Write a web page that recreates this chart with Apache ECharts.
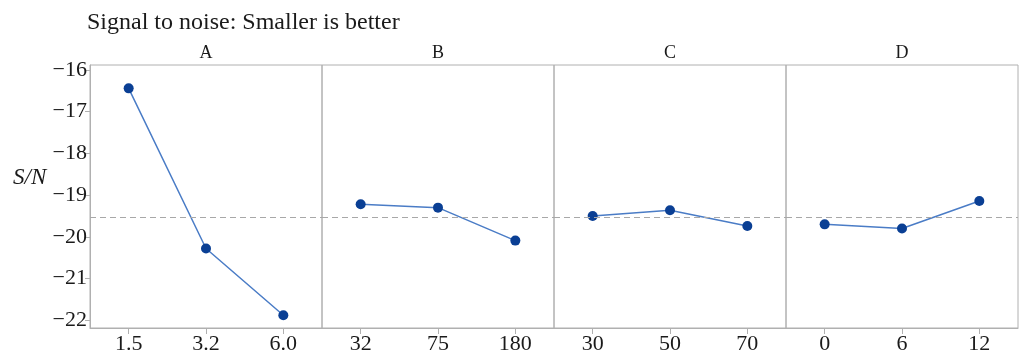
<!DOCTYPE html>
<html>
<head>
<meta charset="utf-8">
<script src="https://cdn.jsdelivr.net/npm/echarts@6/dist/echarts.min.js"></script>
<style>
html,body{margin:0;padding:0;background:#fff;}
#chart{width:1019px;height:360px;}
</style>
</head>
<body>
<div id="chart"></div>
<script>
// ---- data ----
const titleText = 'Signal to noise: Smaller is better';
const yName = 'S/N';
const factorNames = ['A', 'B', 'C', 'D'];
const levelsA = ['1.5', '3.2', '6.0'];
const levelsB = ['32', '75', '180'];
const levelsC = ['30', '50', '70'];
const levelsD = ['0', '6', '12'];
const snA = [-16.44, -20.28, -21.88];
const snB = [-19.22, -19.30, -20.09];
const snC = [-19.50, -19.36, -19.74];
const snD = [-19.70, -19.80, -19.14];
const overallMean = -19.54;
const yTicks = [-22, -21, -20, -19, -18, -17, -16];
const yMin = -22.185, yMax = -15.88;

// ---- layout / style ----
const levels = [levelsA, levelsB, levelsC, levelsD];
const values = [snA, snB, snC, snD];
const FONT = 'Liberation Serif';
const gridLeft = 90, gridW = 232, gridTop = 65, gridH = 263;
const GRAY = '#b0b0b0';
const minus = v => (v < 0 ? '\u2212' + Math.abs(v) : String(v));

const grids = [], xAxes = [], yAxes = [], series = [], titles = [];
titles.push({
  text: titleText, left: 87, top: 11, padding: 0,
  textStyle: {fontFamily: FONT, fontSize: 24, fontWeight: 'normal', color: '#1a1a1a'}
});
titles.push({
  text: yName, left: 13, top: 166, padding: 0,
  textStyle: {fontFamily: FONT, fontSize: 23, fontWeight: 'normal', fontStyle: 'italic', color: '#1a1a1a'}
});
factorNames.forEach((f, i) => {
  const left = gridLeft + i * gridW;
  grids.push({left: left, top: gridTop, width: gridW, height: gridH, show: true,
    borderColor: GRAY, borderWidth: 1, backgroundColor: 'transparent', containLabel: false});
  titles.push({text: f, left: left + gridW / 2, top: 44, padding: 0, textAlign: 'center',
    textStyle: {fontFamily: FONT, fontSize: 18, fontWeight: 'normal', color: '#1a1a1a'}});
  xAxes.push({
    type: 'category', gridIndex: i, data: levels[i], boundaryGap: true,
    axisLine: {show: true, lineStyle: {color: GRAY, width: 1}},
    axisTick: {show: true, alignWithLabel: true, length: 6, lineStyle: {color: GRAY}},
    axisLabel: {fontFamily: FONT, fontSize: 22, color: '#1a1a1a', margin: 5},
    splitLine: {show: false}
  });
  yAxes.push({
    type: 'value', gridIndex: i, min: yMin, max: yMax,
    axisLine: {show: i === 0, lineStyle: {color: GRAY, width: 1}},
    axisTick: {show: i === 0, length: 5, lineStyle: {color: GRAY}, customValues: yTicks},
    axisLabel: {show: i === 0, fontFamily: FONT, fontSize: 22, color: '#1a1a1a', margin: 3,
      customValues: yTicks, formatter: minus},
    splitLine: {show: false}
  });
  series.push({
    type: 'line', xAxisIndex: i, yAxisIndex: i, data: values[i],
    symbol: 'circle', symbolSize: 10,
    itemStyle: {color: '#0a3f94'},
    lineStyle: {color: '#4a7cc6', width: 1.5},
    markLine: {
      silent: true, symbol: 'none', label: {show: false},
      lineStyle: {color: '#a8a8a8', type: [6, 4], width: 1},
      data: [{yAxis: overallMean}]
    }
  });
});

const chart = echarts.init(document.getElementById('chart'));
chart.setOption({
  animation: false,
  backgroundColor: '#fff',
  title: titles,
  grid: grids,
  xAxis: xAxes,
  yAxis: yAxes,
  series: series
});
</script>
</body>
</html>
